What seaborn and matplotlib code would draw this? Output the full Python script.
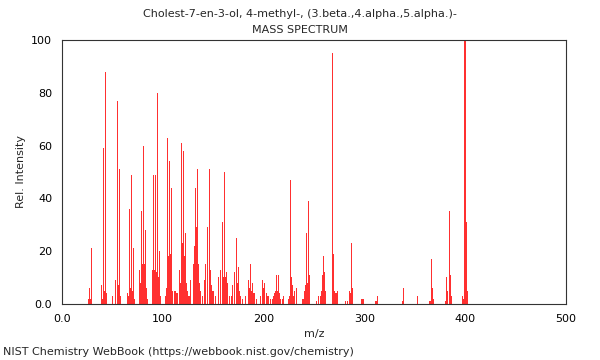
import matplotlib
matplotlib.use("Agg")
import matplotlib.pyplot as plt
import seaborn as sns
import pandas as pd
from matplotlib.ticker import MultipleLocator, FixedLocator

# m/z peaks and relative intensities
mz = [26, 27, 28, 29, 39, 40, 41, 42, 43, 44,
      50, 53, 55, 56, 57, 58, 65, 66, 67, 68, 69, 70, 71, 72,
      77, 78, 79, 80, 81, 82, 83, 84, 85, 90, 91, 92, 93, 94, 95, 96, 97, 98,
      103, 104, 105, 106, 107, 108, 109, 110, 112, 113, 114, 115,
      117, 118, 119, 120, 121, 122, 123, 124, 125, 126, 127, 128,
      131, 132, 133, 134, 135, 136, 137, 138, 140, 142, 143, 145, 147, 148, 149,
      150, 152, 155, 157, 159, 160, 161, 162, 163, 164, 166, 168, 169,
      171, 173, 174, 175, 176, 177, 179, 182, 185, 186, 187, 188, 189, 190, 191,
      193, 197, 199, 200, 201, 203, 204, 205, 207, 209, 210, 211, 212, 213, 214,
      215, 216, 217, 219, 220, 225, 226, 227, 228, 229, 230, 231, 233,
      239, 240, 241, 242, 243, 244, 245, 246, 253, 255,
      257, 258, 259, 260, 261, 262, 269, 270, 271, 272, 273, 274,
      281, 283, 285, 286, 287, 288, 297, 298, 299, 311, 312, 313,
      338, 339, 353, 365, 366, 367, 368, 369, 381, 382, 383, 385, 386, 387,
      398, 399, 400, 401, 402]
intensity = [2, 6, 2, 21, 7, 2, 59, 5, 88, 4,
             3, 9, 77, 7, 51, 3, 4, 3, 36, 6, 49, 5, 21, 2,
             13, 8, 35, 15, 60, 15, 28, 6, 2, 13, 49, 13, 49, 12, 80, 10, 20, 3,
             3, 6, 63, 18, 54, 19, 44, 5, 5, 5, 4, 4,
             13, 8, 61, 23, 58, 18, 27, 8, 5, 3, 3, 9,
             15, 22, 44, 29, 51, 15, 8, 5, 3, 9, 15, 29, 51, 13, 7,
             5, 3, 10, 13, 31, 10, 50, 10, 12, 8, 3, 3, 7,
             12, 25, 8, 14, 5, 3, 2, 3, 9, 6, 15, 5, 8, 4, 4,
             2, 3, 9, 6, 8, 4, 3, 3, 2, 2, 3, 4, 5, 11, 5,
             11, 4, 2, 2, 3, 2, 3, 47, 10, 7, 3, 5, 6,
             2, 2, 5, 7, 27, 8, 39, 11, 1, 3,
             3, 5, 11, 18, 12, 5, 95, 19, 5, 4, 4, 5,
             1, 1, 5, 4, 23, 6, 2, 2, 2, 1, 1, 3,
             1, 6, 3, 1, 1, 17, 6, 2, 1, 10, 5, 35, 11, 3,
             3, 2, 100, 31, 5]

title_line1 = "Cholest-7-en-3-ol, 4-methyl-, (3.beta.,4.alpha.,5.alpha.)-"
title_line2 = "MASS SPECTRUM"
x_tick_vals = [0, 100, 200, 300, 400, 500]
x_tick_labels = ["0.0", "100", "200", "300", "400", "500"]
y_tick_vals = [0, 20, 40, 60, 80, 100]
y_tick_labels = ["0.0", "20", "40", "60", "80", "100"]

df = pd.DataFrame({"mz": mz, "intensity": intensity})

sns.set_style("white")
plt.rcParams["font.family"] = ["DejaVu Sans"]
plt.rcParams["font.size"] = 8

fig = plt.figure(figsize=(6, 3.6), dpi=100)
ax = fig.add_axes([0.103, 0.156, 0.840, 0.733])

# thin sticks: one bar per m/z, width ~1 px
sns.histplot(data=df, x="mz", weights="intensity", discrete=True, shrink=1.0,
             color="#ff3030", alpha=1.0, linewidth=0, ax=ax)

ax.set_xlim(0, 500)
ax.set_ylim(0, 100)
ax.xaxis.set_major_locator(FixedLocator(x_tick_vals))
ax.set_xticklabels(x_tick_labels)
ax.yaxis.set_major_locator(FixedLocator(y_tick_vals))
ax.set_yticklabels(y_tick_labels)
ax.xaxis.set_minor_locator(MultipleLocator(10))
ax.yaxis.set_minor_locator(MultipleLocator(5))
ax.tick_params(which="major", direction="inout", length=7, width=0.8,
               labelsize=8, colors="black")
ax.tick_params(which="minor", direction="inout", length=4, width=0.6)
ax.tick_params(top=False, right=False, which="both")

for sp in ax.spines.values():
    sp.set_color("#333333")
    sp.set_linewidth(0.8)

ax.set_xlabel("m/z", fontsize=8)
ax.set_ylabel("Rel. Intensity", fontsize=8)

fig.text(0.5, 0.96, title_line1, ha="center", va="center", fontsize=8)
fig.text(0.5, 0.917, title_line2, ha="center", va="center", fontsize=8)
fig.text(0.005, 0.022, "NIST Chemistry WebBook (https://webbook.nist.gov/chemistry)",
         ha="left", va="center", fontsize=8)

fig.savefig("out.png", dpi=100)
